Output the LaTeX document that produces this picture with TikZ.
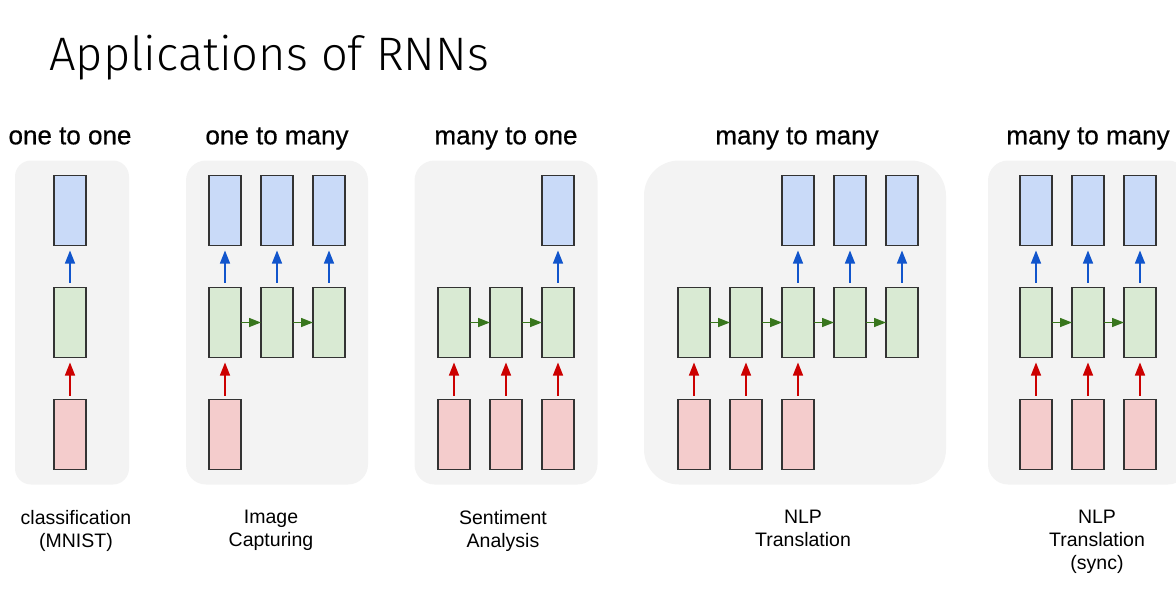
\documentclass[tikz,border=0pt]{standalone}
\usepackage{fontspec}
\setmainfont{Liberation Sans}
\newfontfamily\titlefont{Fira Sans Light}
\newfontfamily\headfont[BoldFont={Liberation Sans}, BoldFeatures={FakeBold=0.6}]{Liberation Sans}
\usetikzlibrary{arrows.meta, positioning, fit, backgrounds}

\definecolor{panelgray}{HTML}{F3F3F3}
\definecolor{outblue}{HTML}{C9DAF8}
\definecolor{hidgreen}{HTML}{D9EAD3}
\definecolor{inred}{HTML}{F4CCCC}
\definecolor{arrblue}{HTML}{1155CC}
\definecolor{arrgreen}{HTML}{38761D}
\definecolor{arrred}{HTML}{CC0000}

\begin{document}
\begin{tikzpicture}[
    x=1pt, y=-1pt,
    node distance=42pt and 20pt,
    cell/.style={
        rectangle, draw=black!80, line width=1.4pt,
        minimum width=32pt, minimum height=70pt,
        inner sep=0pt, outer sep=0pt,
    },
    inbox/.style={cell, fill=inred},
    hidbox/.style={cell, fill=hidgreen},
    outbox/.style={cell, fill=outblue},
    inarr/.style={-{Triangle[length=13pt, width=10pt]}, line width=1.4pt, arrred, shorten <=4pt, shorten >=5pt},
    outarr/.style={-{Triangle[length=13pt, width=10pt]}, line width=1.4pt, arrblue, shorten <=5pt, shorten >=5pt},
    recarr/.style={-{Triangle[length=12pt, width=9pt]}, line width=1.4pt, arrgreen},
    panel/.style={fill=panelgray, rounded corners=20pt, inner ysep=15pt, inner xsep=23pt},
    head/.style={font=\headfont\bfseries\fontsize{26}{30}\selectfont, inner sep=0pt},
    app/.style={font=\fontsize{19.5}{23}\selectfont, align=center, inner sep=0pt},
]
\useasboundingbox (0,0) rectangle (1176,590);

% Title
\node[font=\titlefont\fontsize{47}{56}\selectfont, anchor=base west, inner sep=0pt] (title) at (49,70) {Applications of RNNs};

% === one to one ===
\node[hidbox] (h1) at (70,322.5) {};
\node[outbox, above=of h1] (o1) {};
\node[inbox, below=of h1] (i1) {};

\draw[outarr] (h1) -- (o1);
\draw[inarr] (i1) -- (h1);

% === one to many ===
\node[hidbox] (h21) at (225,322.5) {};
\node[hidbox, right=of h21] (h22) {};
\node[hidbox, right=of h22] (h23) {};
\node[outbox, above=of h21] (o21) {};
\node[outbox, above=of h22] (o22) {};
\node[outbox, above=of h23] (o23) {};
\node[inbox, below=of h21] (i21) {};

\draw[inarr] (i21) -- (h21);
\draw[recarr] (h21) -- (h22);
\draw[recarr] (h22) -- (h23);
\draw[outarr] (h21) -- (o21);
\draw[outarr] (h22) -- (o22);
\draw[outarr] (h23) -- (o23);

% === many to one ===
\node[hidbox] (h31) at (454,322.5) {};
\node[hidbox, right=of h31] (h32) {};
\node[hidbox, right=of h32] (h33) {};
\node[outbox, above=of h33] (o33) {};
\node[inbox, below=of h31] (i31) {};
\node[inbox, below=of h32] (i32) {};
\node[inbox, below=of h33] (i33) {};

\draw[inarr] (i31) -- (h31);
\draw[inarr] (i32) -- (h32);
\draw[inarr] (i33) -- (h33);
\draw[recarr] (h31) -- (h32);
\draw[recarr] (h32) -- (h33);
\draw[outarr] (h33) -- (o33);

% === many to many (delayed) ===
\node[hidbox] (h41) at (694,322.5) {};
\node[hidbox, right=of h41] (h42) {};
\node[hidbox, right=of h42] (h43) {};
\node[hidbox, right=of h43] (h44) {};
\node[hidbox, right=of h44] (h45) {};
\node[outbox, above=of h43] (o43) {};
\node[outbox, above=of h44] (o44) {};
\node[outbox, above=of h45] (o45) {};
\node[inbox, below=of h41] (i41) {};
\node[inbox, below=of h42] (i42) {};
\node[inbox, below=of h43] (i43) {};

\draw[inarr] (i41) -- (h41);
\draw[inarr] (i42) -- (h42);
\draw[inarr] (i43) -- (h43);
\draw[recarr] (h41) -- (h42);
\draw[recarr] (h42) -- (h43);
\draw[recarr] (h43) -- (h44);
\draw[recarr] (h44) -- (h45);
\draw[outarr] (h43) -- (o43);
\draw[outarr] (h44) -- (o44);
\draw[outarr] (h45) -- (o45);

% === many to many (sync) ===
\node[hidbox] (h51) at (1036,322.5) {};
\node[hidbox, right=of h51] (h52) {};
\node[hidbox, right=of h52] (h53) {};
\node[outbox, above=of h51] (o51) {};
\node[outbox, above=of h52] (o52) {};
\node[outbox, above=of h53] (o53) {};
\node[inbox, below=of h51] (i51) {};
\node[inbox, below=of h52] (i52) {};
\node[inbox, below=of h53] (i53) {};

\draw[inarr] (i51) -- (h51);
\draw[inarr] (i52) -- (h52);
\draw[inarr] (i53) -- (h53);
\draw[recarr] (h51) -- (h52);
\draw[recarr] (h52) -- (h53);
\draw[outarr] (h51) -- (o51);
\draw[outarr] (h52) -- (o52);
\draw[outarr] (h53) -- (o53);

% Background panels
\begin{scope}[on background layer]
    \node[panel, fit=(o1)(i1), inner xsep=41pt, xshift=2pt, rounded corners=16pt] (p1) {};
    \node[panel, fit=(o21)(o23)(i21)] (p2) {};
    \node[panel, fit=(h31)(o33)(i31), inner xsep=23.5pt] (p3) {};
    \node[panel, fit=(h41)(h45)(o45)(i41), inner xsep=31pt, xshift=-3pt, rounded corners=35pt] (p4) {};
    \node[panel, fit=(o51)(o53)(i51), inner xsep=32pt] (p5) {};
\end{scope}

% Headers above the panels
\node[head, above=16pt of p1.north, anchor=base, xshift=-2pt] (t1) {one to one};
\node[head, above=16pt of p2.north, anchor=base] (t2) {one to many};
\node[head, above=16pt of p3.north, anchor=base] (t3) {many to one};
\node[head, above=16pt of p4.north, anchor=base, xshift=2pt] (t4) {many to many};
\node[head, above=16pt of p5.north, anchor=base] (t5) {many to many};

% Applications underneath
\node[app, below=25pt of p1.south, xshift=4pt] (a1) {classification\\(MNIST)};
\node[app, below=25pt of p2.south, xshift=-6pt] (a2) {Image\\Capturing};
\node[app, below=25pt of p3.south, xshift=-3pt] (a3) {Sentiment\\Analysis};
\node[app, below=25pt of p4.south, xshift=8pt] (a4) {NLP\\Translation};
\node[app, below=25pt of p5.south, xshift=9pt] (a5) {NLP\\Translation\\(sync)};

\end{tikzpicture}
\end{document}
